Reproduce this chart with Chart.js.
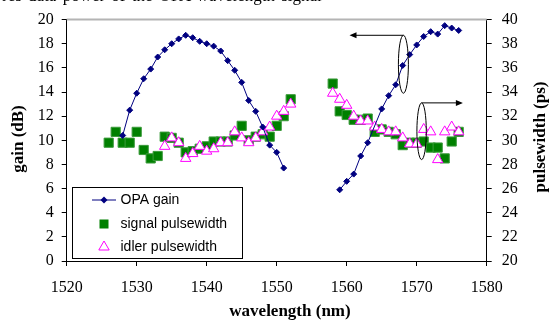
<!DOCTYPE html>
<html>
<head>
<meta charset="utf-8">
<script src="https://cdn.jsdelivr.net/npm/chart.js@4.4.0/dist/chart.umd.min.js"></script>
<style>
  body { margin: 0; background: #fff; }
  #wrap { position: relative; width: 550px; height: 320px; overflow: hidden; }
  #caption { position: absolute; left: 2px; top: -14px; font: 17px "Liberation Serif", serif; white-space: nowrap; word-spacing: 2px; }
</style>
</head>
<body>
<div id="wrap">
  <canvas id="myChart" width="550" height="320"></canvas>
  <div id="caption">res data power of the OPA wavelength signal</div>
</div>
<script>
// OPA gain (dB), left axis — two separate runs
const gainWlA = [1528, 1529, 1530, 1531, 1532, 1533, 1534, 1535, 1536, 1537, 1538, 1539,
                 1540, 1541, 1542, 1543, 1544, 1545, 1546, 1547, 1548, 1549, 1550, 1551];
const gainA   = [10.4, 12.5, 13.9, 15.1, 15.9, 16.9, 17.5, 18.0, 18.4, 18.7, 18.5, 18.2,
                 18.0, 17.8, 17.4, 16.6, 15.8, 14.8, 13.3, 12.4, 11.1, 9.6, 9.0, 7.7];
const gainWlB = [1559, 1560, 1561, 1562, 1563, 1565, 1566, 1567, 1568, 1569, 1570, 1571,
                 1572, 1573, 1574, 1575, 1576];
const gainB   = [5.9, 6.6, 7.2, 8.7, 9.8, 12.6, 13.7, 14.6, 16.2, 17.1, 17.9, 18.6,
                 19.0, 18.8, 19.5, 19.3, 19.1];

// signal pulsewidth (ps), right axis
const signalWl = [1526, 1527, 1528, 1529, 1530, 1531, 1532, 1533, 1534, 1535, 1536, 1537, 1538,
                  1539, 1540, 1541, 1542, 1543, 1544, 1545, 1546, 1547, 1548, 1549, 1550, 1551, 1552,
                  1558, 1559, 1560, 1561, 1562, 1563, 1564, 1565, 1566, 1567, 1568, 1569, 1570,
                  1571, 1572, 1573, 1574, 1575, 1576];
const signalPw = [29.8, 30.7, 29.8, 29.8, 30.7, 29.2, 28.5, 28.7, 30.3, 30.2, 29.8, 29.0, 29.1,
                  29.3, 29.5, 29.9, 29.9, 29.9, 30.4, 31.2, 30.0, 30.3, 30.5, 30.3, 31.2, 32.0, 33.4,
                  34.7, 32.4, 32.1, 31.7, 31.7, 31.8, 30.7, 30.9, 30.7, 30.5, 29.6, 29.8, 29.8,
                  29.9, 29.4, 29.4, 28.5, 29.9, 30.7];

// idler pulsewidth (ps), right axis
const idlerWl = [1534, 1535, 1536, 1537, 1538, 1539, 1540, 1541, 1542, 1543, 1544, 1545, 1546,
                 1547, 1548, 1549, 1550, 1551, 1552,
                 1558, 1559, 1560, 1561, 1562, 1563, 1564, 1565, 1566, 1567, 1568, 1569, 1570,
                 1571, 1572, 1573, 1574, 1575, 1576];
const idlerPw = [29.5, 30.2, 29.8, 28.5, 28.9, 29.5, 29.1, 29.3, 29.8, 29.8, 30.7, 30.2, 29.8,
                 30.2, 30.7, 31.1, 32.0, 32.4, 33.0,
                 33.9, 33.4, 32.9, 32.0, 31.6, 31.6, 31.1, 30.9, 30.7, 30.7, 30.2, 29.7, 29.7,
                 30.9, 30.7, 28.4, 30.7, 31.1, 30.7];

const legendLabels = ["OPA gain", "signal pulsewidth", "idler pulsewidth"];

const SERIF = '"Liberation Serif", "Times New Roman", serif';
const SANS  = '"Liberation Sans", Arial, sans-serif';
const NAVY = "#000080", GREEN = "#008000", MAGENTA = "#ff00ff";

const pts = (xs, ys) => xs.map((x, i) => ({ x, y: ys[i] }));
const gainData = [...pts(gainWlA, gainA), { x: 1555, y: null }, ...pts(gainWlB, gainB)];

function arrowHead(ctx, x, y, dir) {
    ctx.beginPath();
    ctx.moveTo(x, y);
    ctx.lineTo(x - dir * 7, y - 3);
    ctx.lineTo(x - dir * 7, y + 3);
    ctx.closePath();
    ctx.fill();
}

const overlay = {
    id: "overlay",
    beforeDatasetsDraw(chart) {
        const { ctx, chartArea: a } = chart;
        ctx.save();
        ctx.strokeStyle = "#b4b4b4";
        ctx.lineWidth = 2;
        ctx.beginPath();
        ctx.moveTo(a.left, a.top);
        ctx.lineTo(a.right, a.top);
        ctx.stroke();
        ctx.restore();
    },
    afterDraw(chart) {
        const { ctx } = chart;
        const x = chart.scales.x, y = chart.scales.y, y2 = chart.scales.y2;
        ctx.save();

        // ellipses + arrows pointing at the axis each curve belongs to
        ctx.strokeStyle = "#000";
        ctx.fillStyle = "#000";
        ctx.lineWidth = 1;
        let cx = x.getPixelForValue(1568.1), cy = y.getPixelForValue(16.3);
        let top = y.getPixelForValue(18.7);
        ctx.beginPath();
        ctx.ellipse(cx, cy, 5, cy - top, 0, 0, Math.PI * 2);
        ctx.stroke();
        let tip = x.getPixelForValue(1560.4);
        ctx.beginPath(); ctx.moveTo(cx, top); ctx.lineTo(tip + 6, top); ctx.stroke();
        arrowHead(ctx, tip, top, -1);

        cx = x.getPixelForValue(1570.7); cy = y2.getPixelForValue(30.75);
        top = y2.getPixelForValue(33.1);
        ctx.beginPath();
        ctx.ellipse(cx, cy, 4.7, cy - top, 0, 0, Math.PI * 2);
        ctx.stroke();
        tip = x.getPixelForValue(1576.6);
        ctx.beginPath(); ctx.moveTo(cx, top); ctx.lineTo(tip - 6, top); ctx.stroke();
        arrowHead(ctx, tip, top, 1);

        // legend box
        ctx.fillStyle = "#fff";
        ctx.fillRect(72.5, 187.5, 170, 71);
        ctx.strokeRect(72.5, 187.5, 170, 71);
        ctx.font = "14px " + SANS;
        ctx.textBaseline = "middle";
        ctx.fillStyle = "#000";
        const rows = [200, 224, 247];
        rows.forEach((ry, i) => ctx.fillText(legendLabels[i], 120.5, ry));

        ctx.strokeStyle = NAVY; ctx.fillStyle = NAVY;
        ctx.beginPath(); ctx.moveTo(92, rows[0]); ctx.lineTo(116, rows[0]); ctx.stroke();
        ctx.beginPath();
        ctx.moveTo(104, rows[0] - 3.5); ctx.lineTo(107.5, rows[0]);
        ctx.lineTo(104, rows[0] + 3.5); ctx.lineTo(100.5, rows[0]);
        ctx.closePath(); ctx.fill();

        ctx.fillStyle = GREEN;
        ctx.fillRect(99.5, rows[1] - 4.5, 9, 9);

        ctx.strokeStyle = MAGENTA; ctx.fillStyle = "#fff";
        ctx.beginPath();
        ctx.moveTo(104, rows[2] - 6); ctx.lineTo(109.2, rows[2] + 3); ctx.lineTo(98.8, rows[2] + 3);
        ctx.closePath(); ctx.fill(); ctx.stroke();

        // axis titles
        ctx.fillStyle = "#000";
        ctx.font = "bold 17px " + SERIF;
        ctx.textAlign = "center";
        ctx.fillText("wavelength (nm)", 290, 312);
        ctx.save();
        ctx.translate(19, 139); ctx.rotate(-Math.PI / 2);
        ctx.fillText("gain (dB)", 0, 0);
        ctx.restore();
        ctx.save();
        ctx.translate(541, 137); ctx.rotate(-Math.PI / 2);
        ctx.fillText("pulsewidth (ps)", 0, 0);
        ctx.restore();

        ctx.restore();
    }
};

const tickFont = { family: SERIF, size: 16 };
const axisGrid = { display: true, drawOnChartArea: false, drawTicks: true, tickLength: 5, color: "#000" };

new Chart(document.getElementById("myChart"), {
    type: "line",
    data: {
        datasets: [
            {
                label: legendLabels[0],
                data: gainData,
                yAxisID: "y",
                borderColor: NAVY,
                backgroundColor: NAVY,
                borderWidth: 1,
                pointStyle: "rectRot",
                pointRadius: 3,
                pointBorderWidth: 1,
                tension: 0,
                spanGaps: false,
                order: 0,
            },
            {
                label: legendLabels[2],
                data: pts(idlerWl, idlerPw),
                yAxisID: "y2",
                showLine: false,
                pointStyle: "triangle",
                pointRadius: 6,
                pointBorderWidth: 1,
                borderColor: MAGENTA,
                backgroundColor: "#fff",
                order: 1,
            },
            {
                label: legendLabels[1],
                data: pts(signalWl, signalPw),
                yAxisID: "y2",
                showLine: false,
                pointStyle: "rect",
                pointRadius: 6.5,
                pointBorderWidth: 1,
                borderColor: "#3a9a3a",
                backgroundColor: GREEN,
                order: 2,
            },
        ]
    },
    options: {
        responsive: false,
        animation: false,
        events: [],
        layout: { padding: { top: 17, left: 0, right: 0, bottom: 0 } },
        plugins: { legend: { display: false }, tooltip: { enabled: false } },
        scales: {
            x: {
                type: "linear",
                min: 1520, max: 1580,
                afterFit: s => { s.height = 59; },
                ticks: { stepSize: 10, font: tickFont, color: "#000", padding: 12, callback: v => v },
                grid: axisGrid,
                border: { display: true, color: "#000", width: 1 },
            },
            y: {
                position: "left",
                min: 0, max: 20,
                afterFit: s => { s.width = 66.7; },
                ticks: { stepSize: 2, font: tickFont, color: "#000", padding: 8 },
                grid: axisGrid,
                border: { display: true, color: "#000", width: 1 },
            },
            y2: {
                position: "right",
                min: 20, max: 40,
                afterFit: s => { s.width = 63.3; },
                ticks: { stepSize: 2, font: tickFont, color: "#000", padding: 10 },
                grid: axisGrid,
                border: { display: true, color: "#000", width: 1 },
            },
        }
    },
    plugins: [overlay]
});
</script>
</body>
</html>
